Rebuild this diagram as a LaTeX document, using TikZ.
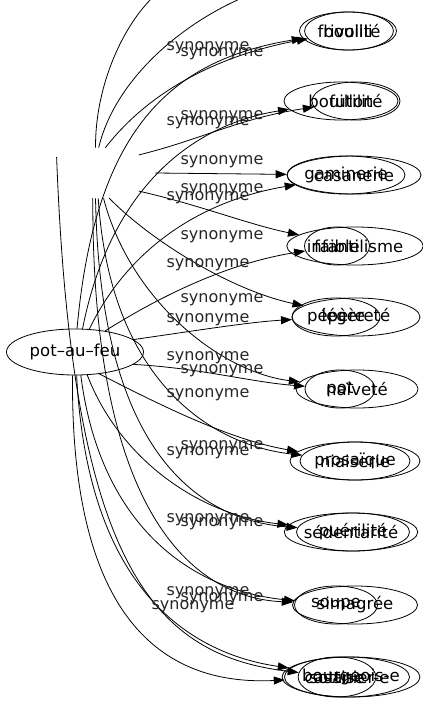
\documentclass[tikz,border=0pt]{standalone}
\usepackage{fontspec}
\setmainfont{DejaVu Sans}
\usetikzlibrary{shapes.geometric,arrows.meta}

\tikzset{
  word/.style={ellipse, draw, line width=0.8pt, inner sep=0pt, minimum height=38pt, font=\fontsize{16.5}{16.5}\selectfont},
  syn/.style={inner sep=0pt, font=\fontsize{16}{16}\selectfont, text=black!85},
  edge/.style={-{Triangle[length=11pt,width=8pt]}, line width=0.8pt},
}

\begin{document}
\begin{tikzpicture}[x=1pt, y=-1pt, line width=0.8pt]
  %%%%% START %%%%%
  \useasboundingbox (0,0) rectangle (423,707);

  % the two roots
  \node[word, minimum width=137pt, minimum height=46pt] (pf) at (75,352) {pot--au--feu};
  \node[ellipse, minimum width=110pt, minimum height=50pt] (hub) at (100,173) {};

  % first set of words
  \node[word, minimum width=97pt] (a1) at (348,31) {bouilli};
  \node[word, minimum width=114pt] (a2) at (341,101) {bouillon};
  \node[word, minimum width=134pt] (a3) at (354,175) {casanerie};
  \node[word, minimum width=65pt] (a4) at (337,246) {faible};
  \node[word, minimum width=88pt] (a5) at (336,317) {pépère};
  \node[word, minimum width=70pt] (a6) at (340,389) {pot};
  \node[word, minimum width=130pt] (a7) at (355,461) {prosaïque};
  \node[word, minimum width=133pt] (a8) at (351,532) {sédentarité};
  \node[word, minimum width=83pt] (a9) at (336,605) {soupe};
  \node[word, minimum width=137pt, minimum height=40pt] (a10) at (351,677) {bourgeois-e};
  \node[word, minimum width=125pt, minimum height=40pt] (a11) at (347,677) {casanier-e};

  % second set of words
  \node[word, minimum width=83pt] (b1) at (349,31) {frivolité};
  \node[word, minimum width=88pt] (b2) at (356,101) {futilité};
  \node[word, minimum width=112pt] (b3) at (346,175) {gaminerie};
  \node[word, minimum width=130pt] (b4) at (355,246) {infantilisme};
  \node[word, minimum width=128pt] (b5) at (356,317) {légèreté};
  \node[word, minimum width=122pt] (b6) at (357,389) {naïveté};
  \node[word, minimum width=110pt] (b7) at (355,461) {niaiserie};
  \node[word, minimum width=113pt] (b8) at (353,532) {puérilité};
  \node[word, minimum width=125pt] (b9) at (355,605) {simagrée};
  \node[word, minimum width=55pt, minimum height=40pt] (b10) at (337,677) {sottise};

  % loose ends at the top
  \coordinate (top1) at (152,-2);
  \coordinate (top2) at (242,-2);

  % edges from pot-au-feu
  \draw[edge] (pf.85) .. controls (95,130) and (170,60) .. (a1);
  \draw[edge] (pf.72) .. controls (110,190) and (190,125) .. (a2);
  \draw[edge] (pf.58) .. controls (130,245) and (205,200) .. (a3);
  \draw[edge] (pf.35) .. controls (170,290) and (235,262) .. (a4);
  \draw[edge] (pf.12) .. controls (200,330) and (250,322) .. (a5);
  \draw[edge] (pf.-12) .. controls (200,368) and (250,382) .. (a6);
  \draw[edge] (pf.-42) .. controls (160,405) and (230,440) .. (a7);
  \draw[edge] (pf.-62) .. controls (120,460) and (200,515) .. (a8);
  \draw[edge] (pf.-76) .. controls (100,525) and (190,590) .. (a9);
  \draw[edge] (pf.-86) .. controls (88,600) and (200,655) .. (a10);
  \draw[edge] (pf.-96) .. controls (70,640) and (180,685) .. (a11);

  % edges from the hidden root
  \draw (hub.100) .. controls (95,90) and (120,30) .. (top1);
  \draw (hub.93) .. controls (115,80) and (180,25) .. (top2);
  \draw[edge] (hub.78) .. controls (150,90) and (220,55) .. (b1);
  \draw[edge] (hub.25) .. controls (200,140) and (240,118) .. (b2);
  \draw[edge] (hub.east) -- (b3);
  \draw[edge] (hub.-25) .. controls (200,205) and (250,225) .. (b4);
  \draw[edge] (hub.-70) .. controls (150,240) and (230,290) .. (b5);
  \draw[edge] (hub.-82) .. controls (130,300) and (220,372) .. (b6);
  \draw[edge] (hub.-94) .. controls (110,380) and (210,445) .. (b7);
  \draw[edge] (hub.-100) .. controls (100,455) and (200,520) .. (b8);
  \draw[edge] (hub.-106) .. controls (92,525) and (200,598) .. (b9);
  \draw[edge] (hub.160) .. controls (72,560) and (150,655) .. (b10);

  % labels
  \node[syn] (la1) at (208,48) {synonyme};
  \node[syn] (la2) at (208,123) {synonyme};
  \node[syn] (la3) at (208,198) {synonyme};
  \node[syn] (la4) at (208,265) {synonyme};
  \node[syn] (la5) at (208,320) {synonyme};
  \node[syn] (la6) at (208,358) {synonyme};
  \node[syn] (la7) at (208,395) {synonyme};
  \node[syn] (la8) at (208,453) {synonyme};
  \node[syn] (la9) at (208,520) {synonyme};
  \node[syn] (la10) at (208,593) {synonyme};
  \node[syn] (la11) at (193,607) {synonyme};
  \node[syn] (lb1) at (222,54) {synonyme};
  \node[syn] (lb2) at (222,117) {synonyme};
  \node[syn] (lb3) at (222,162) {synonyme};
  \node[syn] (lb4) at (222,190) {synonyme};
  \node[syn] (lb5) at (222,237) {synonyme};
  \node[syn] (lb6) at (222,300) {synonyme};
  \node[syn] (lb7) at (222,371) {synonyme};
  \node[syn] (lb8) at (222,447) {synonyme};
  \node[syn] (lb9) at (222,524) {synonyme};
  \node[syn] (lb10) at (222,599) {synonyme};
  %%%%% END %%%%%
\end{tikzpicture}
\end{document}
